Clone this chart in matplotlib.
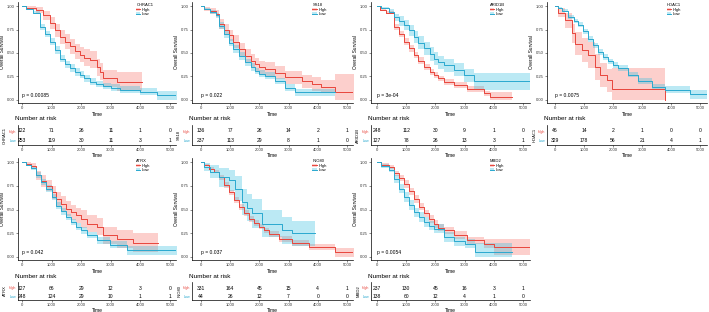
import numpy as np
import matplotlib
matplotlib.use('Agg')
import matplotlib.pyplot as plt
from matplotlib.patches import Patch
from matplotlib.lines import Line2D

plt.rcParams['font.family'] = ['Liberation Sans', 'DejaVu Sans']

# -------------------- DATA --------------------
GENES = ['CHRAC1', 'SS18', 'ARID1B', 'HDAC1', 'ATRX', 'INO80', 'MBD2']
PVALS = ['p = 0.00085', 'p = 0.022', 'p = 3e-04', 'p = 0.0075', 'p = 0.042', 'p = 0.037', 'p = 0.0054']
RISK_TIMES = [0, 1000, 2000, 3000, 4000, 5000]

# CHRAC1
CHRAC1_HIGH_T = [0, 150, 485, 700, 940, 1100, 1275, 1450, 1615, 1800, 1950, 2100, 2290, 2520, 2650, 2745, 3200, 4050]
CHRAC1_HIGH_S = [1.0, 0.98, 0.96, 0.90, 0.82, 0.74, 0.67, 0.62, 0.57, 0.52, 0.48, 0.45, 0.43, 0.35, 0.30, 0.23, 0.195, 0.195]
CHRAC1_HIGH_W = [0, .02, .03, .05, .06, .07, .07, .08, .08, .08, .08, .09, .09, .09, .09, .09, .1, .1]
CHRAC1_LOW_T = [0, 150, 370, 600, 780, 940, 1100, 1275, 1450, 1615, 1800, 1950, 2100, 2290, 2500, 2745, 3000, 3310, 3990, 4550, 5250]
CHRAC1_LOW_S = [1.0, 0.97, 0.93, 0.78, 0.70, 0.62, 0.53, 0.44, 0.38, 0.34, 0.30, 0.27, 0.23, 0.195, 0.17, 0.15, 0.13, 0.11, 0.09, 0.05, 0.05]
CHRAC1_LOW_W = [0, .01, .02, .03, .035, .04, .04, .04, .04, .04, .04, .035, .035, .035, .035, .035, .035, .035, .035, .05, .05]
CHRAC1_RISK_HIGH = [122, 71, 26, 11, 1, 0]
CHRAC1_RISK_LOW = [253, 119, 30, 11, 3, 1]

# SS18
SS18_HIGH_T = [0, 100, 300, 500, 605, 780, 950, 1100, 1290, 1520, 1700, 1860, 2000, 2200, 2545, 2890, 3460, 3800, 4100, 4600, 5250]
SS18_HIGH_S = [1.0, 0.97, 0.95, 0.92, 0.81, 0.75, 0.69, 0.62, 0.54, 0.47, 0.42, 0.38, 0.35, 0.33, 0.29, 0.24, 0.20, 0.17, 0.14, 0.08, 0.08]
SS18_HIGH_W = [0, .02, .03, .04, .05, .06, .06, .07, .07, .07, .07, .07, .07, .07, .07, .07, .07, .07, .07, .2, .2]
SS18_LOW_T = [0, 100, 300, 500, 605, 780, 950, 1100, 1290, 1520, 1700, 1860, 2000, 2200, 2545, 2890, 3230, 4600]
SS18_LOW_S = [1.0, 0.97, 0.94, 0.90, 0.79, 0.70, 0.61, 0.54, 0.47, 0.40, 0.35, 0.31, 0.28, 0.26, 0.20, 0.13, 0.08, 0.08]
SS18_LOW_W = [0, .01, .02, .03, .035, .04, .04, .04, .04, .04, .04, .035, .035, .035, .035, .035, .035, .035]
SS18_RISK_HIGH = [136, 77, 26, 14, 2, 1]
SS18_RISK_LOW = [237, 113, 29, 8, 1, 0]

# ARID1B
ARID1B_HIGH_T = [0, 100, 300, 570, 750, 915, 1100, 1255, 1400, 1600, 1800, 1940, 2100, 2285, 2630, 3085, 3650, 3880, 4625]
ARID1B_HIGH_S = [1.0, 0.96, 0.93, 0.78, 0.70, 0.62, 0.55, 0.48, 0.42, 0.35, 0.30, 0.265, 0.23, 0.19, 0.16, 0.12, 0.07, 0.035, 0.035]
ARID1B_HIGH_W = [0, .015, .02, .03, .035, .035, .035, .035, .035, .035, .035, .035, .03, .03, .03, .03, .03, .05, .05]
ARID1B_LOW_T = [0, 150, 400, 570, 750, 915, 1100, 1255, 1400, 1600, 1800, 1940, 2100, 2285, 2630, 2970, 3310, 5250]
ARID1B_LOW_S = [1.0, 0.98, 0.94, 0.88, 0.84, 0.80, 0.74, 0.67, 0.61, 0.55, 0.49, 0.44, 0.40, 0.37, 0.32, 0.265, 0.20, 0.20]
ARID1B_LOW_W = [0, .01, .03, .04, .05, .05, .06, .06, .07, .07, .07, .07, .07, .07, .07, .07, .09, .09]
ARID1B_RISK_HIGH = [248, 112, 30, 9, 1, 0]
ARID1B_RISK_LOW = [127, 78, 26, 13, 3, 1]

# HDAC1
HDAC1_HIGH_T = [0, 115, 345, 575, 690, 920, 1150, 1380, 1550, 1780, 1955, 3790]
HDAC1_HIGH_S = [1.0, 0.93, 0.85, 0.71, 0.60, 0.53, 0.48, 0.35, 0.265, 0.21, 0.12, 0.0]
HDAC1_HIGH_W = [0, .05, .08, .1, .12, .13, .14, .14, .13, .12, .22, .22]
HDAC1_LOW_T = [0, 100, 250, 460, 640, 805, 980, 1150, 1320, 1495, 1670, 1840, 2000, 2180, 2530, 2875, 3330, 3790, 4655, 5250]
HDAC1_LOW_S = [1.0, 0.98, 0.95, 0.88, 0.84, 0.80, 0.73, 0.65, 0.58, 0.51, 0.46, 0.41, 0.37, 0.34, 0.27, 0.20, 0.14, 0.11, 0.06, 0.06]
HDAC1_LOW_W = [0, .01, .015, .02, .02, .025, .025, .03, .03, .03, .03, .03, .03, .03, .03, .03, .03, .035, .05, .05]
HDAC1_RISK_HIGH = [46, 14, 2, 1, 0, 0]
HDAC1_RISK_LOW = [329, 178, 56, 21, 4, 1]

# ATRX
ATRX_HIGH_T = [0, 150, 300, 485, 650, 825, 1000, 1160, 1330, 1500, 1670, 1840, 2000, 2180, 2520, 2745, 3195, 3760, 4605]
ATRX_HIGH_S = [1.0, 0.98, 0.96, 0.86, 0.80, 0.75, 0.68, 0.61, 0.56, 0.51, 0.47, 0.44, 0.40, 0.35, 0.32, 0.23, 0.19, 0.15, 0.15]
ATRX_HIGH_W = [0, .02, .03, .05, .06, .06, .07, .07, .08, .08, .08, .08, .09, .09, .09, .09, .09, .1, .1]
ATRX_LOW_T = [0, 150, 300, 485, 650, 825, 1000, 1160, 1330, 1500, 1670, 1840, 2000, 2180, 2520, 2970, 3535, 5250]
ATRX_LOW_S = [1.0, 0.97, 0.94, 0.86, 0.79, 0.72, 0.63, 0.54, 0.48, 0.42, 0.37, 0.32, 0.28, 0.23, 0.175, 0.13, 0.07, 0.07]
ATRX_LOW_W = [0, .01, .02, .03, .035, .035, .035, .035, .035, .035, .035, .035, .035, .035, .035, .035, .05, .05]
ATRX_RISK_HIGH = [127, 66, 29, 12, 3, 0]
ATRX_RISK_LOW = [248, 124, 29, 10, 1, 1]

# INO80
INO80_HIGH_T = [0, 100, 260, 430, 605, 780, 950, 1120, 1290, 1460, 1635, 1800, 1975, 2150, 2320, 2660, 3120, 3690, 4600, 5250]
INO80_HIGH_S = [1.0, 0.97, 0.93, 0.90, 0.84, 0.76, 0.68, 0.60, 0.53, 0.46, 0.40, 0.36, 0.32, 0.28, 0.245, 0.19, 0.15, 0.105, 0.05, 0.05]
INO80_HIGH_W = [0, .01, .015, .02, .025, .03, .03, .03, .03, .03, .03, .03, .03, .03, .03, .03, .03, .035, .05, .05]
INO80_LOW_T = [0, 100, 300, 605, 950, 1175, 1405, 1560, 1745, 2090, 2775, 3120, 3915]
INO80_LOW_S = [1.0, 0.95, 0.90, 0.84, 0.81, 0.72, 0.58, 0.52, 0.46, 0.35, 0.28, 0.25, 0.25]
INO80_LOW_W = [0, .04, .07, .1, .11, .13, .14, .14, .15, .14, .14, .13, .13]
INO80_RISK_HIGH = [331, 164, 45, 15, 4, 1]
INO80_RISK_LOW = [44, 26, 12, 7, 0, 0]

# MBD2
MBD2_HIGH_T = [0, 150, 400, 570, 740, 915, 1085, 1255, 1430, 1600, 1770, 1940, 2100, 2285, 2630, 3085, 3655, 3995, 5250]
MBD2_HIGH_S = [1.0, 0.97, 0.95, 0.88, 0.83, 0.77, 0.69, 0.61, 0.53, 0.46, 0.40, 0.35, 0.31, 0.28, 0.23, 0.175, 0.14, 0.105, 0.105]
MBD2_HIGH_W = [0, .015, .02, .03, .035, .04, .04, .04, .04, .04, .04, .04, .04, .04, .04, .04, .045, .08, .08]
MBD2_LOW_T = [0, 150, 400, 570, 740, 915, 1085, 1255, 1430, 1600, 1770, 1940, 2285, 2630, 3000, 3370, 4625]
MBD2_LOW_S = [1.0, 0.96, 0.92, 0.82, 0.72, 0.63, 0.55, 0.47, 0.42, 0.37, 0.33, 0.30, 0.21, 0.165, 0.14, 0.05, 0.05]
MBD2_LOW_W = [0, .02, .03, .04, .05, .05, .05, .05, .05, .05, .05, .05, .05, .05, .05, .1, .1]
MBD2_RISK_HIGH = [237, 130, 45, 16, 3, 1]
MBD2_RISK_LOW = [138, 60, 12, 4, 1, 0]

CURVES = {
    'CHRAC1': (CHRAC1_HIGH_T, CHRAC1_HIGH_S, CHRAC1_HIGH_W, CHRAC1_LOW_T, CHRAC1_LOW_S, CHRAC1_LOW_W, CHRAC1_RISK_HIGH, CHRAC1_RISK_LOW),
    'SS18': (SS18_HIGH_T, SS18_HIGH_S, SS18_HIGH_W, SS18_LOW_T, SS18_LOW_S, SS18_LOW_W, SS18_RISK_HIGH, SS18_RISK_LOW),
    'ARID1B': (ARID1B_HIGH_T, ARID1B_HIGH_S, ARID1B_HIGH_W, ARID1B_LOW_T, ARID1B_LOW_S, ARID1B_LOW_W, ARID1B_RISK_HIGH, ARID1B_RISK_LOW),
    'HDAC1': (HDAC1_HIGH_T, HDAC1_HIGH_S, HDAC1_HIGH_W, HDAC1_LOW_T, HDAC1_LOW_S, HDAC1_LOW_W, HDAC1_RISK_HIGH, HDAC1_RISK_LOW),
    'ATRX': (ATRX_HIGH_T, ATRX_HIGH_S, ATRX_HIGH_W, ATRX_LOW_T, ATRX_LOW_S, ATRX_LOW_W, ATRX_RISK_HIGH, ATRX_RISK_LOW),
    'INO80': (INO80_HIGH_T, INO80_HIGH_S, INO80_HIGH_W, INO80_LOW_T, INO80_LOW_S, INO80_LOW_W, INO80_RISK_HIGH, INO80_RISK_LOW),
    'MBD2': (MBD2_HIGH_T, MBD2_HIGH_S, MBD2_HIGH_W, MBD2_LOW_T, MBD2_LOW_S, MBD2_LOW_W, MBD2_RISK_HIGH, MBD2_RISK_LOW),
}

# -------------------- STYLE / LAYOUT --------------------
W, H = 709, 312
RED_LINE, RED_FILL = '#E8453C', '#F8766D'
CYAN_LINE, CYAN_FILL = '#2AA9CF', '#3CC0E0'
FS_TICK = 3.0
FS_LAB = 3.6

# per column: axis left px, px of t=0, px of t=5000, axis right px
COLS = [(18, 22, 170, 176), (192, 201, 347, 353), (371, 377, 523, 530), (547, 555, 700, 707)]
# per row: main (top, y=1 px, y=0 px, bottom), table (top, high px, low px, bottom), "Number at risk" px
ROWS = [((2, 6, 100, 103), (125, 131, 141, 145), 119),
        ((158, 162, 257, 260), (282, 288, 297, 300), 277)]


def add_px_axes(fig, l, t, r, b):
    return fig.add_axes([l / W, 1 - b / H, (r - l) / W, (b - t) / H])


def style_axes(ax):
    for side in ['top', 'right']:
        ax.spines[side].set_visible(False)
    for side in ['left', 'bottom']:
        ax.spines[side].set_linewidth(0.5)
    ax.tick_params(labelsize=FS_TICK, length=1.5, width=0.4, pad=1, colors='#333333')
    ax.set_facecolor('none')


def km(ax, t, s, w, line, fill):
    t = np.array(t, dtype=float)
    s = np.array(s, dtype=float)
    w = np.array(w, dtype=float)
    lo = np.clip(s - w, 0, 1)
    hi = np.clip(s + w, 0, 1)
    ax.fill_between(t, lo, hi, step='post', color=fill, alpha=0.35, lw=0)
    ax.plot(t, s, drawstyle='steps-post', color=line, lw=0.7)


fig = plt.figure(figsize=(W / 100, H / 100), dpi=100)

for i, gene in enumerate(GENES):
    r, c = divmod(i, 4)
    L, X0, X5, R = COLS[c]
    (T, Y1, Y0, B), (tT, tH, tL, tB), nar_y = ROWS[r]
    sx = (X5 - X0) / 5000.0
    xlim = ((L - X0) / sx, (R - X0) / sx)
    ht, hs, hw, lt, ls, lw_, rh, rl = CURVES[gene]

    # ---- survival curve ----
    ax = add_px_axes(fig, L, T, R, B)
    style_axes(ax)
    km(ax, ht, hs, hw, RED_LINE, RED_FILL)
    km(ax, lt, ls, lw_, CYAN_LINE, CYAN_FILL)
    sy = (Y0 - Y1)
    ax.set_ylim(-(B - Y0) / sy, 1 + (Y1 - T) / sy)
    ax.set_xlim(*xlim)
    ax.set_xticks(RISK_TIMES)
    ax.set_yticks([0, 0.25, 0.5, 0.75, 1.0])
    ax.set_yticklabels(['0.00', '0.25', '0.50', '0.75', '1.00'])
    ax.set_xlabel('Time', fontsize=FS_LAB, labelpad=1)
    ax.set_ylabel('Overall Survival', fontsize=3.4, labelpad=1)
    ax.text(0, 0.05, PVALS[i], fontsize=FS_LAB, ha='left', va='center')
    handles = [(Patch(facecolor=RED_FILL, alpha=0.35), Line2D([], [], color=RED_LINE, lw=0.7)),
               (Patch(facecolor=CYAN_FILL, alpha=0.35), Line2D([], [], color=CYAN_LINE, lw=0.7))]
    leg = ax.legend(handles, ['High', 'Low'], title=gene, loc='upper left',
                    bbox_to_anchor=(0.73, 1.02), frameon=False, fontsize=FS_TICK,
                    title_fontsize=FS_TICK, handlelength=1.0, handleheight=0.8,
                    borderpad=0.2, labelspacing=0.15, handletextpad=0.4)
    leg._legend_box.align = 'left'

    # ---- risk table ----
    tab = add_px_axes(fig, L, tT, R, tB)
    style_axes(tab)
    st = tL - tH
    tab.set_ylim(1 - (tB - tL) / st, 2 + (tH - tT) / st)
    tab.set_xlim(*xlim)
    tab.set_xticks(RISK_TIMES)
    tab.set_yticks([2, 1])
    tab.set_yticklabels(['High', 'Low'], fontsize=2.6)
    for lab, col in zip(tab.get_yticklabels(), [RED_LINE, CYAN_LINE]):
        lab.set_color(col)
    tab.tick_params(axis='y', length=0, pad=1.5)
    for x, a, b in zip(RISK_TIMES, rh, rl):
        tab.text(x, 2, str(a), fontsize=FS_LAB, ha='center', va='center')
        tab.text(x, 1, str(b), fontsize=FS_LAB, ha='center', va='center')
    tab.set_xlabel('Time', fontsize=FS_LAB, labelpad=0.5)
    tab.set_ylabel(gene, fontsize=FS_TICK, labelpad=1)
    fig.text((L - 3) / W, 1 - nar_y / H, 'Number at risk', fontsize=4.6, ha='left', va='center')

fig.savefig('out.png', dpi=100)
